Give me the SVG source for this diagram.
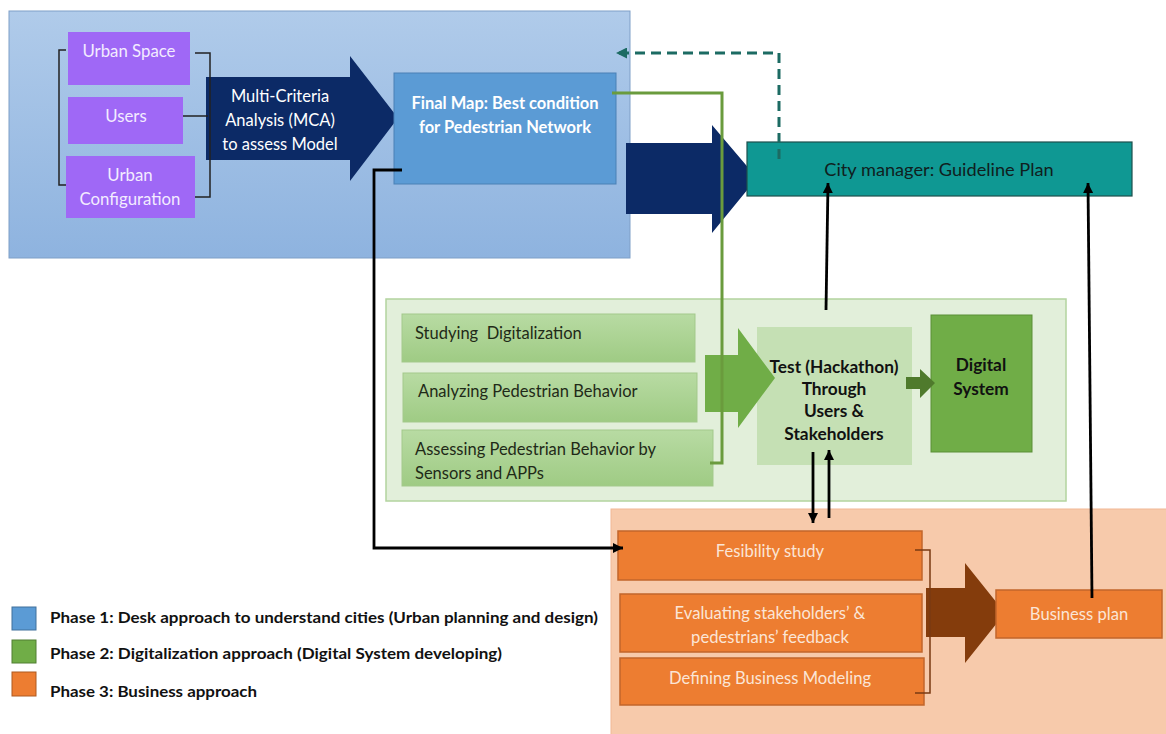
<svg xmlns="http://www.w3.org/2000/svg" width="1166" height="734" viewBox="0 0 1166 734">
<style>
text{font-family:Lato,"Liberation Sans",sans-serif}
.pt{font-size:16.8px;fill:#f3ecff;text-anchor:middle}
.wt{font-size:16.5px;fill:#ffffff;text-anchor:middle}
.gt{font-size:16.5px;fill:#1f2a18;white-space:pre}
.bt{font-size:17.3px;font-weight:bold;fill:#111;text-anchor:middle}
.ot{font-size:16.6px;fill:#fbe5d6;text-anchor:middle}
.lg{font-size:15.5px;font-weight:bold;fill:#111}
.purple{fill:#9f68f6}
.gbox{fill:url(#gg);stroke:#a3c98b;stroke-width:1}
.obox{fill:#ed7d31;stroke:#c2662b;stroke-width:1.5}
.blk{fill:none;stroke:#000;stroke-width:2.8}
.brk{fill:none;stroke:#222;stroke-width:1.5}
</style>
<defs>
<linearGradient id="bg1" x1="0" y1="0" x2="0" y2="1"><stop offset="0" stop-color="#b0cbea"/><stop offset="1" stop-color="#8eb3df"/></linearGradient>
<linearGradient id="gg" x1="0" y1="0" x2="0" y2="1"><stop offset="0" stop-color="#b8dba3"/><stop offset="1" stop-color="#9fcb84"/></linearGradient>
<marker id="ah" viewBox="0 0 10 10" refX="10" refY="5" markerWidth="10" markerHeight="10" markerUnits="userSpaceOnUse" orient="auto"><path d="M0,0 L10,5 L0,10 z" fill="#000"/></marker>
<marker id="ahT" viewBox="0 0 10 10" refX="10" refY="5" markerWidth="11" markerHeight="11" markerUnits="userSpaceOnUse" orient="auto"><path d="M0,0 L10,5 L0,10 z" fill="#1c6b63"/></marker>
</defs>
<rect width="1166" height="734" fill="#fff"/>

<!-- Phase backgrounds -->
<g id="phase1-bg"><rect x="9" y="11" width="621" height="247" fill="url(#bg1)" stroke="#7f9fc7" stroke-width="1"/></g>
<g id="phase2-bg"><rect x="386" y="299" width="680" height="202" fill="#e2efda" stroke="#b3d49f" stroke-width="1.5"/></g>
<g id="phase3-bg"><rect x="611" y="509" width="560" height="230" fill="#f7caab" stroke="#f1b896" stroke-width="1"/></g>

<!-- Phase 1 nodes -->
<g id="urban-space"><rect class="purple" x="68" y="32" width="122" height="53"/><text class="pt" x="129" y="57">Urban Space</text></g>
<g id="users"><rect class="purple" x="68" y="97" width="115" height="47"/><text class="pt" x="126" y="122">Users</text></g>
<g id="urban-config"><rect class="purple" x="66" y="156" width="129" height="62"/><text class="pt" x="130" y="181">Urban</text><text class="pt" x="130" y="205">Configuration</text></g>
<g id="mca-arrow"><polygon points="206,77 350,77 350,56 398,118 350,181 350,160 206,160" fill="#0c2a66"/><text class="wt" x="280" y="102">Multi-Criteria</text><text class="wt" x="280" y="126">Analysis (MCA)</text><text class="wt" x="280" y="150">to assess Model</text></g>
<g id="final-map"><rect x="394" y="73" width="222" height="111" fill="#5b9bd5" stroke="#4a80b5" stroke-width="1"/><text class="wt" x="505" y="109" font-weight="bold" font-size="15.7px">Final Map: Best condition</text><text class="wt" x="505" y="133" font-weight="bold" font-size="15.7px">for Pedestrian Network</text></g>
<g id="big-arrow"><polygon points="626,143 712,143 712,125 757,178 712,233 712,214 626,214" fill="#0c2a66"/></g>
<g id="city-manager"><rect x="747" y="142" width="385" height="54" fill="#0f9893" stroke="#1d4f4c" stroke-width="1.2"/><text x="939" y="176" font-size="18.2px" fill="#102020" text-anchor="middle">City manager: Guideline Plan</text></g>

<!-- Phase 2 nodes -->
<g id="studying"><rect class="gbox" x="402" y="314" width="293" height="48"/><text class="gt" x="415" y="339" xml:space="preserve">Studying  Digitalization</text></g>
<g id="analyzing"><rect class="gbox" x="403" y="373" width="294" height="49"/><text class="gt" x="418" y="397">Analyzing Pedestrian Behavior</text></g>
<g id="assessing"><rect class="gbox" x="402" y="430" width="311" height="56"/><text class="gt" x="415" y="455">Assessing Pedestrian Behavior by</text><text class="gt" x="415" y="479">Sensors and APPs</text></g>
<g id="test"><rect x="757" y="327" width="155" height="138" fill="#c5e0b4"/><text class="bt" x="834" y="373">Test (Hackathon)</text><text class="bt" x="834" y="395">Through</text><text class="bt" x="834" y="417">Users &amp;</text><text class="bt" x="834" y="440">Stakeholders</text></g>
<g id="green-arrow"><polygon points="705,355 738,355 738,328 775,378 738,428 738,412 705,412" fill="#70ad47"/></g>
<g id="digital-system"><rect x="931" y="315" width="101" height="137" fill="#70ad47" stroke="#5a8f36" stroke-width="1"/><text class="bt" x="981" y="371">Digital</text><text class="bt" x="981" y="395">System</text></g>
<g id="small-arrow"><polygon points="906,377 920,377 920,369 935,383 920,398 920,389 906,389" fill="#4f7a2c"/></g>

<!-- Phase 3 nodes -->
<g id="fesibility"><rect class="obox" x="618" y="531" width="304" height="49"/><text class="ot" x="770" y="557">Fesibility study</text></g>
<g id="evaluating"><rect class="obox" x="620" y="594" width="302" height="58"/><text class="ot" x="770" y="619">Evaluating stakeholders’ &amp;</text><text class="ot" x="770" y="643">pedestrians’ feedback</text></g>
<g id="defining"><rect class="obox" x="620" y="658" width="304" height="47"/><text class="ot" x="770" y="684">Defining Business Modeling</text></g>
<g id="brown-arrow"><polygon points="926,588 965,588 965,563 1005,613 965,663 965,637 926,637" fill="#843c0c"/></g>
<g id="business-plan"><rect class="obox" x="996" y="590" width="166" height="48"/><text class="ot" x="1079" y="620">Business plan</text></g>

<!-- Connectors -->
<g id="connectors">
<path class="brk" d="M66,50 H59 V185 H66"/>
<path class="brk" d="M195,53 H210 V197 H195"/>
<path class="brk" d="M183,116 H208"/>
<path d="M915,550 H930 V693 H915" fill="none" stroke="#7a3a12" stroke-width="1.5"/>
<path d="M612,93 H722 V463 H710" fill="none" stroke="#6a9b3d" stroke-width="3"/>
<path d="M779,159 V53 H616" fill="none" stroke="#1c6b63" stroke-width="3" stroke-dasharray="10,6" marker-end="url(#ahT)"/>
<path class="blk" d="M402,170 H374 V548 H623" stroke-width="2.2" marker-end="url(#ah)"/>
<path class="blk" d="M826,310 L828,183" marker-end="url(#ah)"/>
<path class="blk" d="M1092,598 L1088,183" marker-end="url(#ah)"/>
<path class="blk" d="M813,452 V523" marker-end="url(#ah)"/>
<path class="blk" d="M829,518 V450" marker-end="url(#ah)"/>
</g>

<!-- Legend -->
<g id="legend">
<rect x="12" y="607" width="24" height="23" fill="#5b9bd5" stroke="#41719c"/>
<rect x="12" y="640" width="24" height="23" fill="#70ad47" stroke="#507e32"/>
<rect x="12" y="672" width="24" height="24" fill="#ed7d31" stroke="#ae5a21"/>
<text class="lg" x="50" y="623" textLength="548" lengthAdjust="spacingAndGlyphs">Phase 1: Desk approach to understand cities (Urban planning and design)</text>
<text class="lg" x="50" y="659" textLength="452" lengthAdjust="spacingAndGlyphs">Phase 2: Digitalization approach (Digital System developing)</text>
<text class="lg" x="50" y="697" textLength="207" lengthAdjust="spacingAndGlyphs">Phase 3: Business approach</text>
</g>
</svg>
